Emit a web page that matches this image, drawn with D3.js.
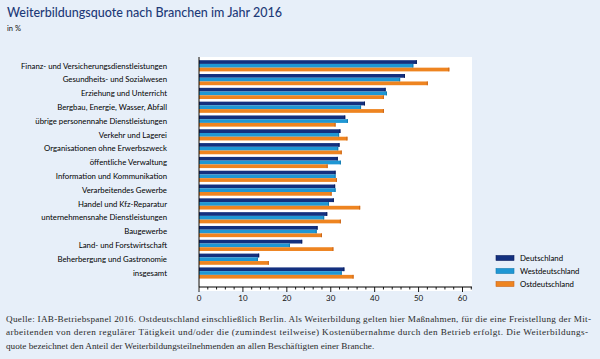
<!DOCTYPE html>
<html><head><meta charset="utf-8">
<script src="https://cdn.jsdelivr.net/npm/d3@7"></script>
<style>
html,body{margin:0;padding:0;background:#e7eff9;}
svg{display:block;}
</style></head>
<body>
<svg id="chart" width="600" height="359"></svg>
<script>
const categories = [
  "Finanz- und Versicherungsdienstleistungen",
  "Gesundheits- und Sozialwesen",
  "Erziehung und Unterricht",
  "Bergbau, Energie, Wasser, Abfall",
  "übrige personennahe Dienstleistungen",
  "Verkehr und Lagerei",
  "Organisationen ohne Erwerbszweck",
  "öffentliche Verwaltung",
  "Information und Kommunikation",
  "Verarbeitendes Gewerbe",
  "Handel und Kfz-Reparatur",
  "unternehmensnahe Dienstleistungen",
  "Baugewerbe",
  "Land- und Forstwirtschaft",
  "Beherbergung und Gastronomie",
  "insgesamt"
];
const seriesNames = ["Deutschland", "Westdeutschland", "Ostdeutschland"];
const deutschland =     [49.6, 46.9, 42.5, 37.8, 33.3, 32.2, 32.0, 31.6, 31.1, 31.0, 30.7, 29.2, 27.0, 23.5, 13.7, 33.1];
const westdeutschland = [48.8, 45.8, 42.8, 36.9, 33.9, 31.9, 31.7, 32.3, 31.1, 31.1, 29.6, 28.5, 26.8, 20.7, 13.4, 32.5];
const ostdeutschland =  [57.0, 52.1, 42.1, 42.1, 31.1, 33.8, 32.5, 29.3, 31.4, 30.2, 36.7, 32.3, 28.0, 30.6, 15.9, 35.2];
const xTicks = [0, 10, 20, 30, 40, 50, 60];
const title = "Weiterbildungsquote nach Branchen im Jahr 2016";
const unit = "in %";
const footnote = [
  "Quelle: IAB-Betriebspanel 2016. Ostdeutschland einschließlich Berlin. Als Weiterbildung gelten hier Maßnahmen, für die eine Freistellung der Mit-",
  "arbeitenden von deren regulärer Tätigkeit und/oder die (zumindest teilweise) Kostenübernahme durch den Betrieb erfolgt. Die Weiterbildungs-",
  "quote bezeichnet den Anteil der Weiterbildungsteilnehmenden an allen Beschäftigten einer Branche."
];

const colors = ["#13307f", "#1f97d4", "#ee8420"];
const strokes = ["#0a1d5c", "#137bb0", "#c9651a"];
const values = [deutschland, westdeutschland, ostdeutschland];

const svg = d3.select("#chart");
const sans = "Lato, 'Open Sans', sans-serif";

svg.append("text").attr("x", 7).attr("y", 17)
  .attr("font-family", sans).attr("font-size", 13).attr("font-weight", 500).attr("fill", "#1d3a78")
  .attr("textLength", 275).attr("lengthAdjust", "spacingAndGlyphs")
  .text(title);
svg.append("text").attr("x", 7).attr("y", 31)
  .attr("font-family", sans).attr("font-size", 7.5).attr("fill", "#111")
  .text(unit);

// plot area
const plot = {left: 199, right: 472, top: 57, bottom: 287};
svg.append("rect").attr("x", plot.left - 1).attr("y", plot.top)
  .attr("width", plot.right - plot.left + 1).attr("height", plot.bottom - plot.top + 4)
  .attr("fill", "#ffffff");

const x = d3.scaleLinear().domain([0, 60]).range([199, 462.5]);
const y = d3.scaleBand().domain(categories).range([60.2, 278.6]).paddingInner(0.19).paddingOuter(0.0);
const ySub = d3.scaleBand().domain(seriesNames).range([0, y.bandwidth()]);

const g = svg.append("g");
categories.forEach((c, i) => {
  seriesNames.forEach((s, j) => {
    const v = values[j][i];
    g.append("rect")
      .attr("x", x(0)).attr("y", y(c) + ySub(s))
      .attr("width", x(v) - x(0)).attr("height", ySub.bandwidth())
      .attr("fill", colors[j]);
    g.append("rect")
      .attr("x", x(v) - 1).attr("y", y(c) + ySub(s))
      .attr("width", 1).attr("height", ySub.bandwidth())
      .attr("fill", strokes[j]);
  });
  svg.append("text").attr("x", 167).attr("y", y(c) + y.bandwidth() / 2)
    .attr("dy", "0.35em").attr("text-anchor", "end")
    .attr("font-family", sans).attr("font-size", 7.8).attr("fill", "#000")
    .text(c);
});

// vertical axis line
svg.append("line").attr("x1", plot.left).attr("x2", plot.left)
  .attr("y1", plot.top).attr("y2", plot.bottom)
  .attr("stroke", "#000").attr("stroke-width", 1);

// x axis
const xAxisG = svg.append("g").attr("transform", `translate(0,${plot.bottom})`);
xAxisG.append("line").attr("x1", plot.left).attr("x2", plot.right)
  .attr("stroke", "#000").attr("stroke-width", 1);
const minor = d3.range(0, 62.1, 2);
xAxisG.selectAll("line.minor").data(minor).join("line").attr("class", "minor")
  .attr("x1", d => x(d)).attr("x2", d => x(d)).attr("y1", 0).attr("y2", d => d % 10 === 0 ? 5 : 2.5)
  .attr("stroke", "#000").attr("stroke-width", 0.9);
xAxisG.selectAll("text").data(xTicks).join("text")
  .attr("x", d => x(d)).attr("y", 14).attr("text-anchor", "middle")
  .attr("font-family", sans).attr("font-size", 8).attr("fill", "#111")
  .text(d => d);

// legend
seriesNames.forEach((s, j) => {
  const ly = 258 + j * 13;
  svg.append("rect").attr("x", 496).attr("y", ly - 2.5).attr("width", 18).attr("height", 5)
    .attr("fill", colors[j]).attr("stroke", strokes[j]).attr("stroke-width", 0.6);
  svg.append("text").attr("x", 520).attr("y", ly).attr("dy", "0.35em")
    .attr("font-family", sans).attr("font-size", 7.8).attr("fill", "#000").text(s);
});

// footnote
const lens = [585, 582, null];
footnote.forEach((t, i) => {
  const tx = svg.append("text").attr("x", 6).attr("y", 322 + i * 13.3)
    .attr("font-family", "'Liberation Serif', 'DejaVu Serif', serif").attr("font-size", 9.2)
    .attr("fill", "#2a2a2a").text(t);
  if (lens[i]) tx.attr("textLength", lens[i]).attr("lengthAdjust", "spacing");
});
</script>
</body></html>
